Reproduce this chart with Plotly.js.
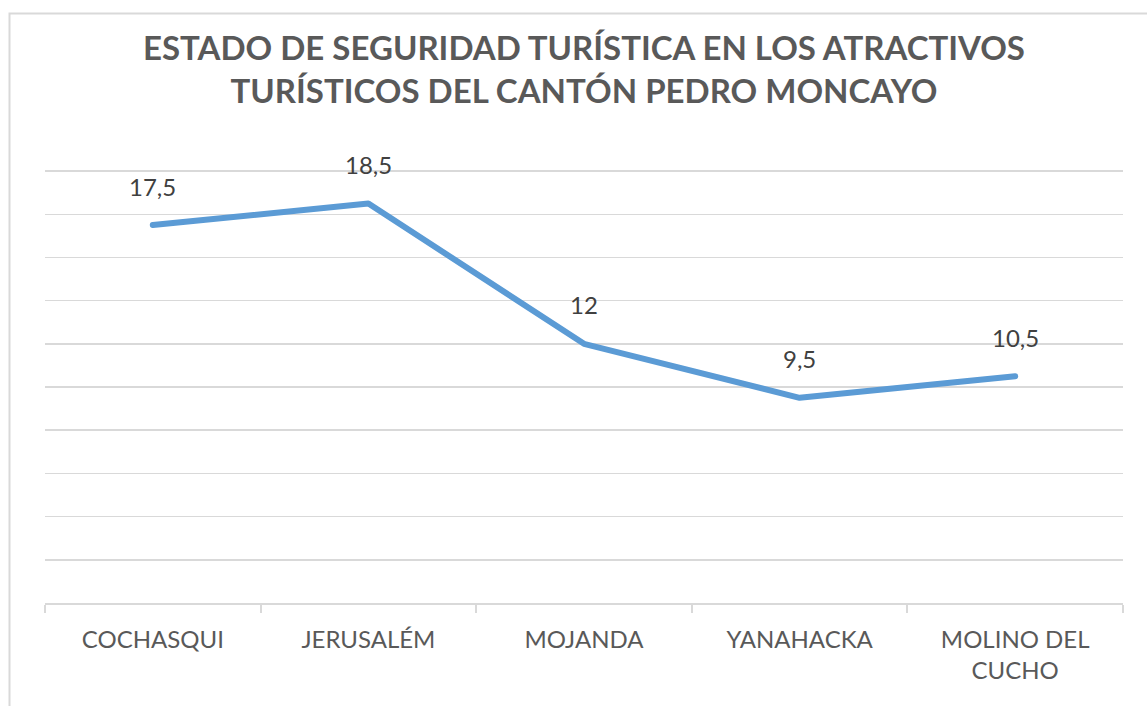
<!DOCTYPE html>
<html>
<head>
<meta charset="utf-8">
<script src="https://cdn.plot.ly/plotly-3.0.1.min.js"></script>
<style>
  html, body { margin: 0; padding: 0; background: #ffffff; }
  #chart { width: 1147px; height: 706px; }
  .scatterlayer .js-line { stroke-linecap: round; stroke-linejoin: round; }
</style>
</head>
<body>
<div id="chart"></div>
<script>
// ---- data ----
const categories = ["COCHASQUI", "JERUSALÉM", "MOJANDA", "YANAHACKA", "MOLINO DEL<br>CUCHO"];
const values = [17.5, 18.5, 12, 9.5, 10.5];
const yTickValues = [0, 2, 4, 6, 8, 10, 12, 14, 16, 18, 20];
const chartTitle = "ESTADO DE SEGURIDAD TURÍSTICA EN LOS ATRACTIVOS<br>TURÍSTICOS DEL CANTÓN PEDRO MONCAYO";

const FONT = "Lato, 'Open Sans', sans-serif";

const yMax = 20.05;
const marginL = 45, marginR = 24, marginT = 170, marginB = 103;
const W = 1147, H = 706;
const plotW = W - marginL - marginR, plotH = H - marginT - marginB;

function fmt(v) { return String(v).replace('.', ','); }

const trace = {
  x: categories,
  y: values,
  type: 'scatter',
  mode: 'lines',
  line: { color: '#5b9bd5', width: 6 },
  hoverinfo: 'skip',
  cliponaxis: false
};

const annotations = categories.map((c, i) => ({
  x: c, y: values[i], xref: 'x', yref: 'y',
  text: fmt(values[i]), showarrow: false,
  yshift: 39,
  font: { family: FONT, size: 24, color: '#404040' }
}));

// frame border (paper coordinates from pixel positions)
const px2x = p => (p - marginL) / plotW;
const px2y = p => (H - marginB - p) / plotH;

const layout = {
  width: W, height: H,
  margin: { l: marginL, r: marginR, t: marginT, b: marginB, pad: 0 },
  paper_bgcolor: '#ffffff',
  plot_bgcolor: '#ffffff',
  showlegend: false,
  title: {
    text: chartTitle,
    x: 0.5, xref: 'paper', xanchor: 'center',
    y: 1 - 60 / H, yref: 'container', yanchor: 'middle',
    font: { family: FONT, size: 33, color: '#595959', weight: 'bold' }
  },
  xaxis: {
    type: 'category',
    range: [-0.5, categories.length - 0.5],
    showgrid: false,
    showline: true, linecolor: '#d9d9d9', linewidth: 2,
    ticks: 'outside', tickson: 'boundaries', ticklen: 8, tickcolor: '#d9d9d9', tickwidth: 2,
    tickfont: { family: FONT, size: 24, color: '#595959' },
    ticklabelstandoff: 14,
    zeroline: false,
    fixedrange: true
  },
  yaxis: {
    range: [0, yMax],
    tickvals: yTickValues,
    showticklabels: false,
    showgrid: true, gridcolor: '#d9d9d9', gridwidth: 1.5,
    zeroline: false, showline: false, ticks: '',
    fixedrange: true
  },
  annotations: annotations,
  shapes: [{
    type: 'rect', xref: 'paper', yref: 'paper',
    x0: px2x(9.5), x1: px2x(W + 20),
    y0: px2y(H + 20), y1: px2y(13.5),
    line: { color: '#d9d9d9', width: 2 },
    fillcolor: 'rgba(0,0,0,0)',
    layer: 'below'
  }]
};

Plotly.newPlot('chart', [trace], layout, { displayModeBar: false, staticPlot: true });
</script>
</body>
</html>
